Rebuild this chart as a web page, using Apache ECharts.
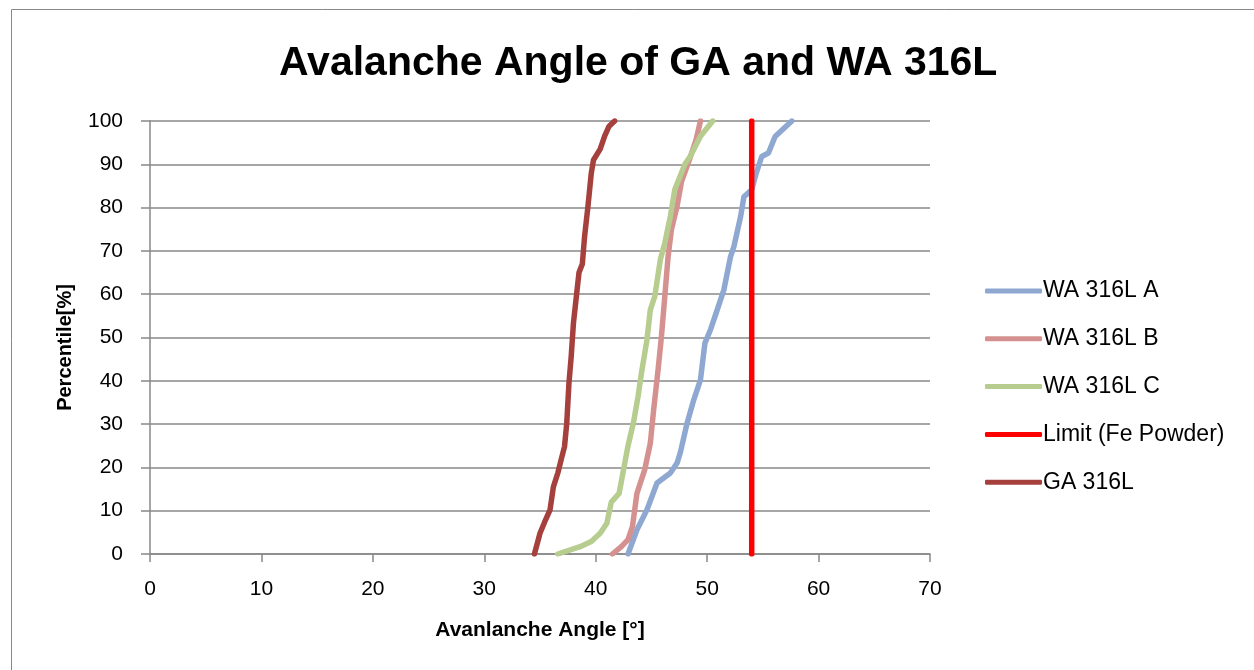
<!DOCTYPE html>
<html>
<head>
    <meta charset="utf-8">
    <title>Avalanche Angle</title>
    <script src="https://cdn.jsdelivr.net/npm/echarts@6/dist/echarts.min.js"></script>
    <style>
        body { margin: 0; background: #fff; }
    </style>
</head>
<body>
    <div id="main" style="width: 1254px;height:670px;"></div>
    <script type="text/javascript">
        // series names
        let names = ['WA 316L A', 'WA 316L B', 'WA 316L C', 'Limit (Fe Powder)', 'GA 316L']
        let colors = ['#8EA8D2', '#D4918F', '#B6CD8F', '#FF0000', '#A6403D']

        // avalanche angle [°] / percentile [%]
        let angleA = [42.9, 43.7, 44.6, 45.5, 46.7, 47.3, 47.6, 48.2, 48.8, 49.4, 49.8, 50.3, 50.8, 51.5, 52.1, 52.4, 53.0, 53.3, 54.0, 54.4, 54.9, 55.5, 56.1, 57.6]
        let pctA = [0, 5.6, 10.2, 16.4, 18.7, 21, 23.5, 30.2, 35.6, 40.2, 48.7, 51.8, 55.6, 61, 68.7, 71, 77.9, 82.5, 84.1, 87.9, 91.8, 92.6, 96.4, 100]

        let angleB = [41.5, 42.3, 42.9, 43.3, 43.7, 44.4, 44.9, 45.2, 45.6, 45.9, 46.2, 46.5, 46.8, 47.3, 47.7, 48.4, 49.0, 49.4]
        let pctB = [0, 1.7, 3.3, 6.4, 14, 19.5, 25.6, 33.3, 42.6, 50.3, 59.5, 68.8, 75, 80.3, 86, 91, 95.6, 100]

        let angleC = [36.6, 38.6, 39.6, 40.4, 41.0, 41.4, 42.1, 42.5, 42.9, 43.4, 43.8, 44.1, 44.6, 44.9, 45.3, 45.8, 46.2, 46.7, 47.1, 48.0, 48.5, 49.4, 50.5]
        let pctC = [0, 1.7, 2.9, 4.8, 7.1, 12, 14, 19.5, 25, 30.5, 36.4, 41.7, 49.5, 56.4, 59.5, 68, 71.8, 78, 84.2, 90, 91.9, 96.5, 100]

        let angleLimit = [54, 54]
        let pctLimit = [0, 100]

        let angleGA = [34.5, 35.0, 35.5, 35.9, 36.2, 36.6, 36.9, 37.2, 37.4, 37.6, 37.8, 38.0, 38.2, 38.5, 38.8, 39.0, 39.3, 39.6, 39.8, 40.4, 40.8, 41.2, 41.7]
        let pctGA = [0, 4.8, 7.9, 10.2, 15.5, 18.7, 21.8, 24.8, 30.2, 39.5, 45.6, 53.3, 58, 65, 67, 73.3, 80.2, 87.9, 91, 93.5, 96.5, 98.8, 100]

        let angles = [angleA, angleB, angleC, angleLimit, angleGA]
        let pcts = [pctA, pctB, pctC, pctLimit, pctGA]

        let font = 'Liberation Sans'

        function pairs(xs, ys) {
            let out = []
            for (let i = 0; i < xs.length; i++) {
                out.push([xs[i], ys[i]])
            }
            return out
        }

        let series = []
        for (let i = 0; i < names.length; i++) {
            series.push({
                name: names[i],
                type: 'line',
                symbol: 'none',
                color: colors[i],
                lineStyle: { width: 5.5, color: colors[i], cap: 'round', join: 'round' },
                emphasis: { disabled: true },
                data: pairs(angles[i], pcts[i])
            })
        }

        let myChart = echarts.init(document.getElementById('main'));

        let option = {
            animation: false,
            backgroundColor: '#fff',
            title: {
                text: 'Avalanche Angle of GA and WA 316L',
                left: 274,
                top: 38,
                textStyle: { fontFamily: font, fontSize: 41, fontWeight: 'bold', color: '#000' }
            },
            graphic: [{
                type: 'rect',
                shape: { x: 11.5, y: 9.5, width: 1300, height: 700 },
                style: { fill: 'none', stroke: '#888', lineWidth: 1 },
                silent: true
            }],
            legend: {
                orient: 'vertical',
                left: 980,
                top: 274,
                icon: 'roundRect',
                itemWidth: 57,
                itemHeight: 5,
                itemGap: 23.8,
                textStyle: { fontFamily: font, fontSize: 23, lineHeight: 24, color: '#000', padding: [0, 0, 0, -4] },
                data: names
            },
            grid: { left: 150, right: 324, top: 121, bottom: 116 },
            xAxis: {
                type: 'value',
                min: 0,
                max: 70,
                interval: 10,
                name: 'Avanlanche Angle [°]',
                nameLocation: 'middle',
                nameGap: 66,
                nameTextStyle: { fontFamily: font, fontSize: 21, fontWeight: 'bold', color: '#000' },
                axisLine: { lineStyle: { color: '#888', width: 1.5 } },
                axisTick: { show: true, length: 8, inside: false, lineStyle: { color: '#888', width: 1.5 } },
                axisLabel: { fontFamily: font, fontSize: 21, color: '#000', margin: 25 },
                splitLine: { show: false }
            },
            yAxis: {
                type: 'value',
                min: 0,
                max: 100,
                interval: 10,
                name: 'Percentile[%]',
                nameLocation: 'middle',
                nameGap: 75,
                nameTextStyle: { fontFamily: font, fontSize: 20, fontWeight: 'bold', color: '#000', padding: [0, 20, 0, 0] },
                axisLine: { show: true, lineStyle: { color: '#888', width: 1.5 } },
                axisTick: { show: true, length: 9, lineStyle: { color: '#888', width: 1.5 } },
                axisLabel: { fontFamily: font, fontSize: 21, color: '#000', margin: 27 },
                splitLine: { show: true, lineStyle: { color: '#888', width: 1.5 } }
            },
            series: series
        };

        myChart.setOption(option);
    </script>
</body>
</html>
